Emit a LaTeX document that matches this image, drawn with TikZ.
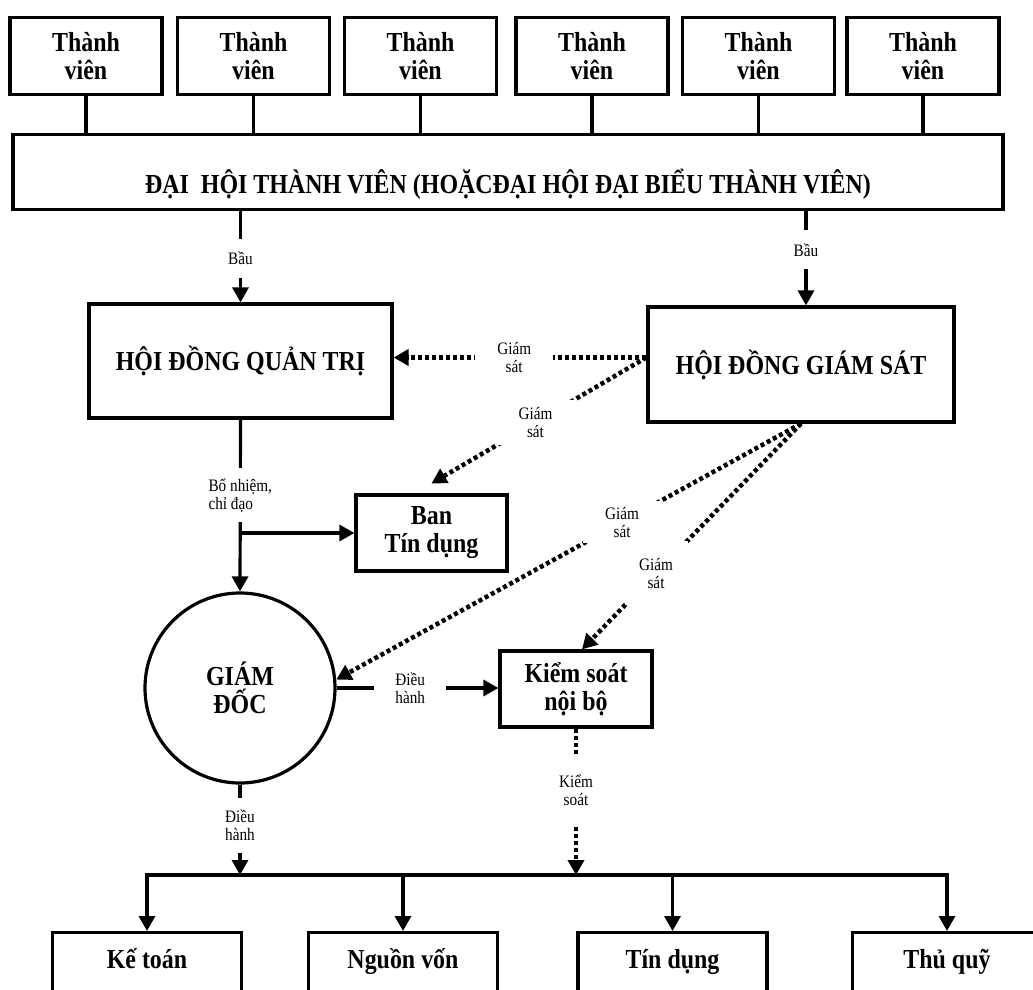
\documentclass[tikz,border=0pt]{standalone}
\usepackage{fontspec}
\setmainfont{Liberation Serif}[FakeStretch=0.87]
\usetikzlibrary{arrows.meta}
\newcommand\hfont{\fontsize{27.5}{28}\selectfont\bfseries}
\newcommand\lfont{\fontsize{17.5}{18}\selectfont}

\begin{document}
\begin{tikzpicture}[x=1pt,y=-1pt,
  line width=3.2pt,
  arr/.style={-{Triangle[length=15pt,width=16pt]}},
  ibox/.style={draw, line width=3.2pt, align=center, font=\hfont, inner sep=0pt},
  member/.style={ibox, minimum width=152pt, minimum height=77pt},
  dept/.style={ibox, minimum width=189pt, anchor=north, text height=27pt, text depth=40pt, inner ysep=9pt},
  lbl/.style={fill=white, inner sep=0pt, align=center, font=\lfont},
  dotline/.style={line width=4.5pt, dash pattern=on 4pt off 3pt},
]
\useasboundingbox (0,0) rectangle (1033,990);
\clip (0,0) rectangle (1033,990);

% members and the general assembly
\foreach \i/\x in {1/86,2/253.5,3/420.5,4/592,5/758.5,6/923}
  \node[member] (m\i) at (\x,56) {Thành\\viên};
\node[ibox, minimum width=990pt, anchor=north, text height=59pt, text depth=16pt, inner ysep=0pt] (dh) at (508,133)
  {ĐẠI\ \ HỘI THÀNH VIÊN (HOẶCĐẠI HỘI ĐẠI BIỂU THÀNH VIÊN)};
\foreach \i in {1,...,6}
  \draw (m\i.south) -- (m\i.south |- dh.north);

% boards
\node[ibox, minimum width=303pt, minimum height=114pt] (qt) at (240.5,361) {HỘI ĐỒNG QUẢN TRỊ};
\node[ibox, minimum width=306pt, minimum height=115pt] (gs) at (801,364.5) {HỘI ĐỒNG GIÁM SÁT};
\node[ibox, minimum width=151pt, minimum height=76pt] (ban) at (431.5,533) {Ban\\Tín dụng};
\node[ibox, minimum width=152pt, minimum height=76pt] (ks) at (576,689) {Kiểm soát\\nội bộ};
\node[draw, circle, minimum size=190pt, inner sep=0pt, align=center, font=\hfont, line width=3.2pt] (gd) at (240,688) {GIÁM\\ĐỐC};

% departments
\node[dept] (kt) at (147,931) {Kế toán};
\node[dept] (nv) at (403,931) {Nguồn vốn};
\node[dept] (td) at (672.5,931) {Tín dụng};
\node[dept] (tq) at (947,931) {Thủ quỹ};

% election
\coordinate (gsn) at ([xshift=5pt]gs.north);
\draw[arr] (qt.north |- dh.south) -- node[lbl, pos=0.516, minimum height=39pt] {Bầu} (qt.north);
\draw[arr] (gsn |- dh.south) -- node[lbl, pos=0.41, minimum height=39pt] {Bầu} (gsn);

% supervision
\coordinate (gsw) at ([yshift=7pt]gs.west);
\coordinate (bant) at ([yshift=10pt]ban.north);
\coordinate (kst) at ([xshift=6pt]ks.north);
\draw[dotline, arr] (gsw) -- node[lbl, pos=0.523, minimum width=78pt, minimum height=40pt] {Giám\\sát} (qt.east |- gsw);
\draw[dotline, arr] (gsw) -- node[lbl, pos=0.516, minimum width=78pt, minimum height=45pt] {Giám\\sát} (bant);
\draw[dotline, arr] (gs.south) -- node[lbl, pos=0.385, minimum width=78pt, minimum height=42pt] {Giám\\sát} (gd.5);
\draw[dotline, arr] (gs.south) -- node[lbl, pos=0.662, minimum width=63pt, minimum height=64pt] {Giám\\sát} (kst);

% appointment and direction
\draw[arr] (qt.south) -- node[lbl, pos=0.44, minimum height=54pt, align=left] {Bổ nhiệm,\\chỉ đạo} (gd.north);
\coordinate (br) at (qt.south |- ban.west);
\draw[arr] (br) -- (ban.west);
\draw[arr] (gd.east) -- node[lbl, pos=0.455, minimum width=72pt, minimum height=40pt] {Điều\\hành} (ks.west |- gd.east);

% distribution bar to departments
\coordinate (bar) at (0,875);
\draw[line cap=rect] (kt.north |- bar) -- (tq.north |- bar);
\foreach \n in {kt,nv,td,tq}
  \draw[arr] (\n.north |- bar) -- (\n.north);
\draw[arr] (gd.south) -- node[lbl, pos=0.45, minimum height=55pt] {Điều\\hành} (gd.south |- bar);
\draw[dotline, arr] (ks.south) -- node[lbl, pos=0.42, minimum height=72pt] {Kiểm\\soát} (ks.south |- bar);
\end{tikzpicture}
\end{document}
